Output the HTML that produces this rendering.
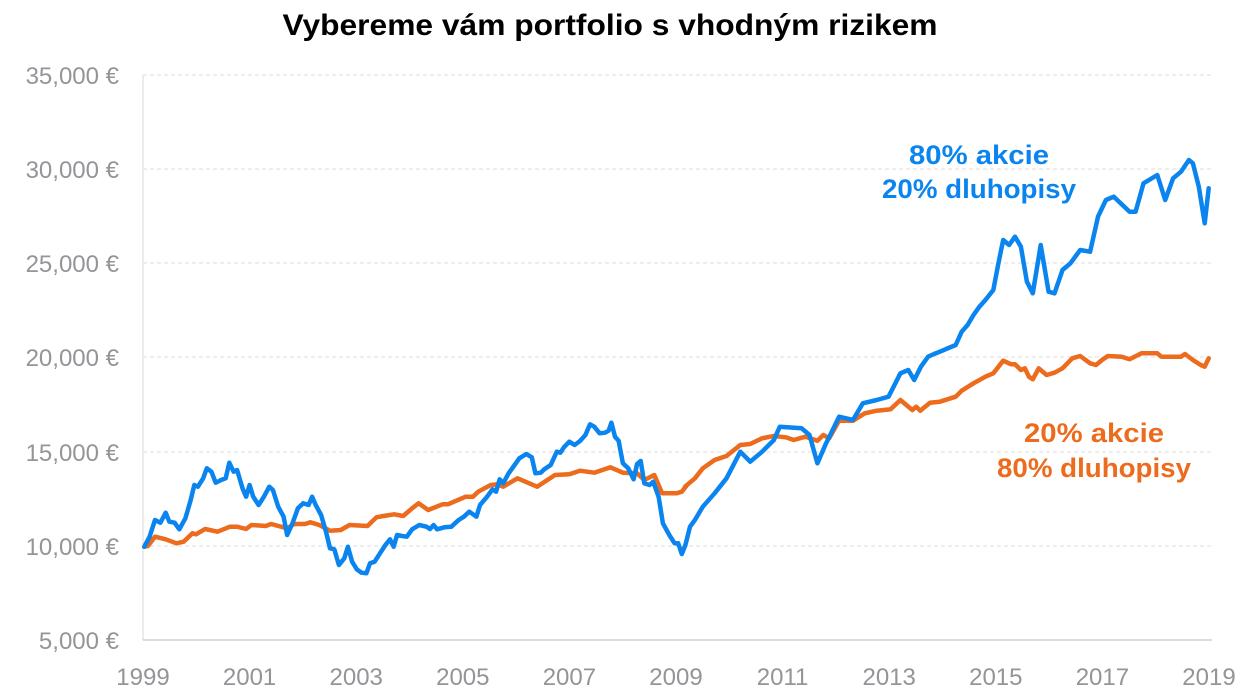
<!DOCTYPE html>
<html><head><meta charset="utf-8"><style>
html,body{margin:0;padding:0;background:#fff;}
svg{display:block;}
text{font-family:"Liberation Sans",Arial,sans-serif;}
</style></head><body>
<svg id="s" width="1246" height="694" viewBox="0 0 1246 694" xmlns="http://www.w3.org/2000/svg">
<text x="610" y="35" text-anchor="middle" font-size="30" font-weight="bold" fill="#000" textLength="655" lengthAdjust="spacingAndGlyphs">Vybereme vám portfolio s vhodným rizikem</text>
<g stroke="#dcdcdc" stroke-width="1" stroke-dasharray="4,3">
<line x1="143" x2="1212" y1="75" y2="75"/>
<line x1="143" x2="1212" y1="169" y2="169"/>
<line x1="143" x2="1212" y1="263" y2="263"/>
<line x1="143" x2="1212" y1="357" y2="357"/>
<line x1="143" x2="1212" y1="452" y2="452"/>
<line x1="143" x2="1212" y1="546" y2="546"/>
</g>
<line x1="143" x2="143" y1="75" y2="640" stroke="#e6e6e6" stroke-width="1.5"/>
<line x1="143" x2="1212" y1="640" y2="640" stroke="#cfcfcf" stroke-width="1.5"/>
<g font-size="24" fill="#949499" text-anchor="end">
<text x="119" y="84">35,000 €</text>
<text x="119" y="178">30,000 €</text>
<text x="119" y="272">25,000 €</text>
<text x="119" y="366">20,000 €</text>
<text x="119" y="461">15,000 €</text>
<text x="119" y="555">10,000 €</text>
<text x="119" y="649">5,000 €</text>
</g>
<g font-size="24" fill="#949499" text-anchor="middle" id="xl"></g>
<polyline id="or" fill="none" stroke="#ec6b1c" stroke-width="4.5" stroke-linejoin="round" stroke-linecap="round"/>
<polyline id="bl" fill="none" stroke="#0a84ee" stroke-width="4.5" stroke-linejoin="round" stroke-linecap="round"/>
<g font-size="27" font-weight="bold" text-anchor="middle">
<text x="979" y="164" fill="#0a84ee" textLength="140" lengthAdjust="spacingAndGlyphs">80% akcie</text>
<text x="979" y="198" fill="#0a84ee" textLength="194" lengthAdjust="spacingAndGlyphs">20% dluhopisy</text>
<text x="1094" y="442" fill="#ec6b1c" textLength="140" lengthAdjust="spacingAndGlyphs">20% akcie</text>
<text x="1094" y="477" fill="#ec6b1c" textLength="194" lengthAdjust="spacingAndGlyphs">80% dluhopisy</text>
</g>
</svg>
<script>
var xl=document.getElementById('xl'),ns='http://www.w3.org/2000/svg';
for(var y=1999;y<=2019;y+=2){var x=143+(y-1999)*53.3;
var t=document.createElementNS(ns,'text');t.setAttribute('x',x);t.setAttribute('y',685);t.textContent=y;xl.appendChild(t);}
function z1(p){return p.map(function(a){return [130+a[0]/2.8,380+a[1]/3];});}
function z2(p){return p.map(function(a){return [600+a[0]/2.53,150+a[1]/3];});}
var b1=[[40,500],[55,470],[70,420],[85,428],[100,398],[110,425],[125,428],[138,448],[155,415],[170,360],[180,315],[190,320],[205,295],[215,265],[228,275],[240,308],[255,300],[268,295],[278,248],[290,275],[300,270],[315,325],[325,350],[335,315],[345,350],[360,375],[375,350],[390,320],[400,330],[415,380],[430,410],[440,465],[455,430],[470,385],[485,370],[500,375],[510,350],[520,375],[535,405],[550,460],[560,505],[572,508],[585,555],[600,535],[610,500],[622,545],[635,568],[648,578],[662,580],[672,550],[685,545],[700,520],[715,495],[728,478],[738,500],[748,465],[762,468],[775,470],[790,448],[810,435],[830,440],[840,447],[850,435],[860,448],[880,442],[900,440],[920,420],[935,410],[950,395],[970,410],[980,375],[1000,350],[1015,328],[1025,335],[1035,298],[1045,310],[1060,280],[1075,258],[1090,235],[1110,222],[1125,232],[1135,280],[1150,278],[1160,268],[1178,255],[1195,215],[1205,218],[1215,202],[1230,185],[1245,195],[1260,183],[1275,165],[1288,133],[1300,140],[1315,160],[1330,158],[1340,152],[1348,128],[1358,170],[1368,182],[1380,250],[1395,265],[1410,298],[1420,252],[1430,243],[1440,310],[1455,315],[1465,305],[1480,350],[1492,430],[1510,465],[1525,490],[1535,490],[1545,522],[1555,495],[1568,440]];
var b2=[[240,1110],[260,1070],[290,1030],[320,985],[355,905],[380,935],[410,905],[440,870],[455,830],[510,835],[530,855],[550,940],[570,885],[605,800],[640,810],[665,760],[700,750],[730,740],[745,705],[760,670],[780,660],[795,690],[812,650],[830,620],[845,612],[860,605],[880,595],[900,585],[915,545],[930,525],[945,495],[960,470],[975,450],[995,420],[1008,340],[1020,270],[1035,285],[1050,260],[1065,290],[1080,395],[1095,430],[1115,285],[1135,425],[1150,430],[1170,360],[1190,340],[1215,300],[1240,305],[1260,200],[1280,150],[1300,140],[1340,185],[1355,185],[1375,100],[1410,75],[1430,150],[1450,85],[1470,65],[1490,30],[1500,40],[1515,110],[1530,220],[1540,115]];
var o1=[[40,500],[50,498],[70,470],[100,478],[130,490],[150,485],[175,460],[185,463],[210,447],[245,455],[280,440],[300,440],[325,447],[340,435],[380,438],[395,432],[440,445],[460,432],[490,432],[505,427],[530,435],[560,452],[590,450],[615,435],[665,438],[690,412],[710,408],[740,403],[765,408],[790,385],[808,370],[835,390],[875,373],[890,373],[940,350],[960,350],[975,335],[1010,315],[1030,313],[1045,320],[1085,295],[1140,320],[1190,285],[1230,283],[1260,272],[1300,278],[1345,262],[1380,278],[1420,280],[1440,300],[1468,285],[1490,340],[1530,340],[1545,335],[1560,315]];
var o2=[[215,1010],[240,985],[260,955],[290,930],[320,918],[355,885],[380,882],[410,865],[440,858],[470,862],[490,870],[520,860],[550,872],[565,855],[580,865],[605,812],[640,812],[670,790],[700,782],[735,778],[760,750],[790,780],[800,770],[810,782],[835,758],[860,755],[900,740],[915,722],[945,700],[975,680],[995,670],[1020,632],[1040,643],[1050,643],[1065,660],[1075,655],[1085,680],[1095,688],[1110,655],[1130,675],[1150,668],[1170,655],[1195,625],[1215,618],[1240,640],[1255,645],[1270,630],[1285,618],[1320,620],[1340,628],[1370,610],[1410,610],[1420,620],[1470,620],[1480,612],[1500,630],[1520,645],[1530,650],[1540,625]];
function s(a){return a.map(function(p){return p[0].toFixed(1)+','+p[1].toFixed(1);}).join(' ');}
document.getElementById('bl').setAttribute('points',s(z1(b1).concat(z2(b2))));
document.getElementById('or').setAttribute('points',s(z1(o1).concat(z2(o2))));
</script>
</body></html>
